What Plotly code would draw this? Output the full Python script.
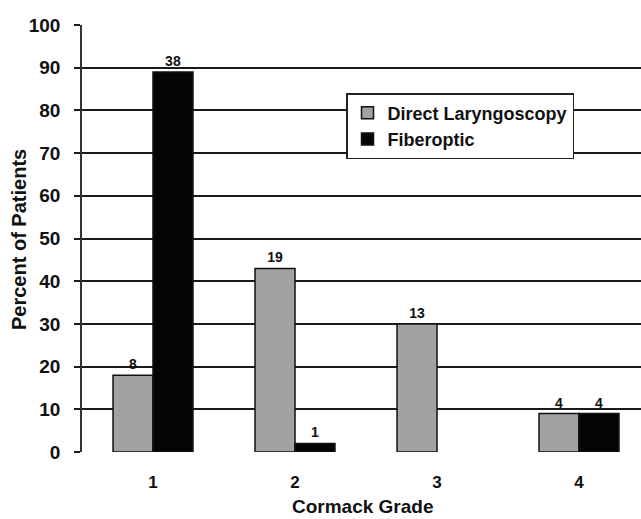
import plotly.graph_objects as go

grades = ["1", "2", "3", "4"]
dl_pct = [18, 43, 30, 9]
fo_pct = [89, 2, None, 9]
dl_counts = ["8", "19", "13", "4"]
fo_counts = ["38", "1", "", "4"]
y_ticks = [0, 10, 20, 30, 40, 50, 60, 70, 80, 90, 100]

xpos = list(range(len(grades)))
FONT = "Arial, Liberation Sans, sans-serif"

fig = go.Figure()
fig.add_trace(go.Bar(
    x=xpos, y=dl_pct, name="Direct Laryngoscopy",
    marker=dict(color="#a2a2a2", line=dict(color="#111", width=1.5)),
    text=dl_counts, textposition="outside",
    textfont=dict(family=FONT, size=14, color="#111", weight="bold"),
    cliponaxis=False,
))
fig.add_trace(go.Bar(
    x=xpos, y=fo_pct, name="Fiberoptic",
    marker=dict(color="#050505", line=dict(color="#111", width=1.5)),
    text=fo_counts, textposition="outside",
    textfont=dict(family=FONT, size=14, color="#111", weight="bold"),
    cliponaxis=False,
))

fig.update_layout(
    width=641, height=519,
    margin=dict(l=82, r=0, t=25, b=67),
    paper_bgcolor="white", plot_bgcolor="white",
    barmode="group", bargap=0.437, bargroupgap=0,
    font=dict(family=FONT, color="#111"),
    showlegend=True,
    legend=dict(
        x=(346 - 82) / 559, y=(452 - 93) / 427, xanchor="left", yanchor="top",
        bgcolor="white", bordercolor="#222", borderwidth=1.5,
        font=dict(family=FONT, size=18, color="#111", weight="bold"),
        itemwidth=30, tracegroupgap=0,
    ),
    xaxis=dict(
        range=[-0.5, -0.5 + 559 / 142],
        tickvals=xpos, ticktext=grades,
        showgrid=False, zeroline=False, showline=False,
        ticks="", ticklabelstandoff=18,
        tickfont=dict(family=FONT, size=17, color="#111", weight="bold"),
    ),
    yaxis=dict(
        range=[0, 100], tickvals=y_ticks,
        showgrid=True, gridcolor="#1a1a1a", gridwidth=2,
        zeroline=False, showline=True, linecolor="#333", linewidth=1.5,
        ticks="outside", ticklen=6, tickcolor="#1a1a1a", tickwidth=2,
        ticklabelstandoff=10,
        tickfont=dict(family=FONT, size=19, color="#111", weight="bold"),
    ),
    annotations=[
        dict(text="Cormack Grade", xref="paper", yref="paper",
             x=(363 - 82) / 559, y=-(507 - 452) / 427, xanchor="center", yanchor="middle",
             showarrow=False, font=dict(family=FONT, size=19, color="#111", weight="bold")),
        dict(text="Percent of Patients", xref="paper", yref="paper",
             x=-(82 - 19) / 559, y=(452 - 240) / 427, xanchor="center", yanchor="middle",
             textangle=-90, showarrow=False,
             font=dict(family=FONT, size=20, color="#111", weight="bold")),
    ],
)

fig.write_html("out.html", config={"displayModeBar": False},
               post_script="document.body.style.margin='0';document.body.style.padding='0';")
